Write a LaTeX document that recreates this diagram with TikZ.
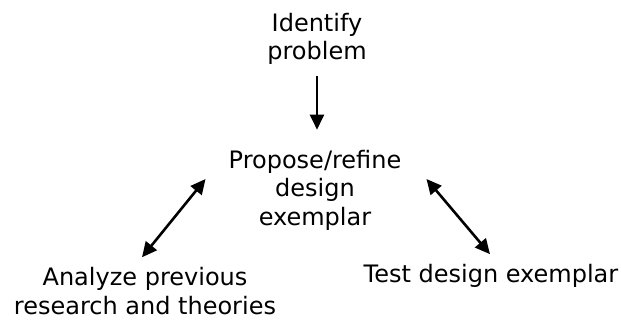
\documentclass[tikz,border=0pt]{standalone}
\usepackage{fontspec}
\setmainfont{DejaVu Sans}
\usetikzlibrary{arrows.meta}
\tikzset{
  step label/.style={anchor=center, align=center, inner sep=0pt, font=\fontsize{24}{28.5}\selectfont},
  link/.style={line width=2.6pt, {Triangle[length=15pt,width=14pt]}-{Triangle[length=15pt,width=14pt]}},
  flow/.style={line width=2.6pt, -{Triangle[length=15pt,width=14pt]}}
}
\begin{document}
\begin{tikzpicture}[x=1pt, y=-1pt]
        \useasboundingbox (0, 0) rectangle (621, 326);
        % Steps:
        \node[step label] (problem) at (317, 39){Identify\\problem};
        \node[step label] (propose) at (315, 190){Propose/refine\\design\\exemplar};
        \node[step label] (analyze) at (145, 291){Analyze previous\\research and theories};
        \node[step label] (test) at (491, 276){Test design exemplar};
        % Arrows:
        \draw[flow, shorten <=11pt, shorten >=20pt] (problem.south) -- (problem.south |- propose.north);
        \draw[link] ([xshift=-3pt, yshift=10pt]analyze.north) -- ([xshift=-23pt, yshift=11pt]propose.west);
        \draw[link] ([xshift=25pt, yshift=11pt]propose.east) -- ([xshift=-1pt, yshift=10pt]test.north);
      \end{tikzpicture}
\end{document}
